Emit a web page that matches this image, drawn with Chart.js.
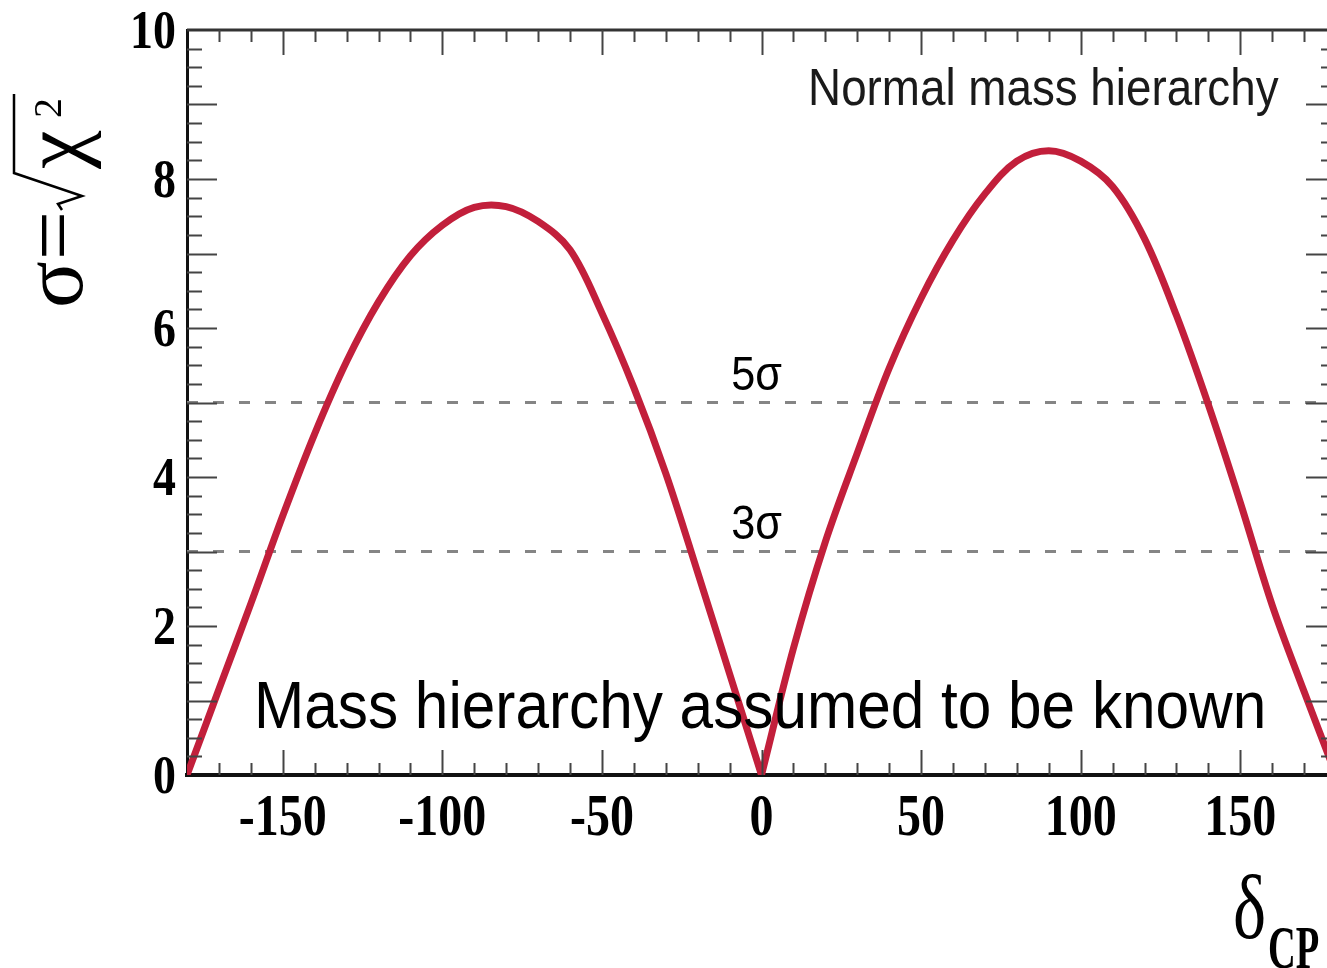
<!DOCTYPE html>
<html>
<head>
<meta charset="utf-8">
<script src="https://cdn.jsdelivr.net/npm/chart.js@4.4.1/dist/chart.umd.min.js"></script>
<style>
    html, body { margin: 0; padding: 0; background: #fff; overflow: hidden; }
    #wrap { width: 1340px; height: 968px; }
</style>
</head>
<body>
<div id="wrap"><canvas id="cpChart" width="1340" height="968"></canvas></div>
<script>
// sigma = sqrt(chi2) versus delta_CP, normal hierarchy, hierarchy known
const deltaLeft = [-180, -170, -160, -150, -140, -130, -120, -110, -100, -90, -80, -70, -60, -50, -40, -30, -20, -10, 0];
const sigmaLeft = [0, 1.15, 2.3, 3.48, 4.58, 5.55, 6.35, 6.97, 7.38, 7.62, 7.63, 7.43, 7.05, 6.2, 5.2, 4.05, 2.72, 1.36, 0];

const deltaRight = [0, 10, 20, 30, 40, 50, 60, 70, 80, 90, 100, 110, 120, 130, 140, 150, 160, 170, 180];
const sigmaRight = [0, 1.7, 3.13, 4.32, 5.46, 6.4, 7.18, 7.8, 8.24, 8.38, 8.24, 7.9, 7.2, 6.17, 4.97, 3.66, 2.28, 1.12, 0];

// significance reference levels
const sigmaLevels = [3, 5];
const levelLabels = ['3σ', '5σ'];

// axis labels
const xTickValues = [-150, -100, -50, 0, 50, 100, 150];
const yTickValues = [0, 2, 4, 6, 8, 10];
const xMinorStep = 10;
const yMinorStep = 0.25;

const curveColor = '#c21f3b';

function toPoints(xs, ys) {
    return xs.map((v, i) => ({ x: v, y: ys[i] }));
}

// text squeezed horizontally, like the narrow fonts of the plot
function drawText(ctx, text, x, y, font, sx, align) {
    ctx.save();
    ctx.font = font;
    const w = ctx.measureText(text).width * sx;
    let left = x;
    if (align === 'center') left = x - w / 2;
    if (align === 'right') left = x - w;
    ctx.translate(left, y);
    ctx.scale(sx, 1);
    ctx.textAlign = 'left';
    ctx.textBaseline = 'alphabetic';
    ctx.fillText(text, 0, 0);
    ctx.restore();
    return w;
}

const framePlugin = {
    id: 'framePlugin',
    afterDraw(chart) {
        const { ctx, chartArea: a, scales: { x, y } } = chart;
        ctx.save();

        // top and right edges of the frame
        ctx.strokeStyle = '#333';
        ctx.lineWidth = 3;
        ctx.beginPath();
        ctx.moveTo(a.left, a.top);
        ctx.lineTo(a.right, a.top);
        ctx.lineTo(a.right, a.bottom);
        ctx.stroke();

        // inward ticks on all four sides
        ctx.strokeStyle = '#444';
        ctx.lineWidth = 2;
        ctx.beginPath();
        for (let v = x.min + xMinorStep; v < x.max; v += xMinorStep) {
            const px = Math.round(x.getPixelForValue(v)) + 0.5;
            const len = (Math.round(v) % 50 === 0) ? 25 : 12;
            ctx.moveTo(px, a.bottom);
            ctx.lineTo(px, a.bottom - len);
            ctx.moveTo(px, a.top);
            ctx.lineTo(px, a.top + len);
        }
        for (let v = y.min + yMinorStep; v < y.max; v += yMinorStep) {
            const py = Math.round(y.getPixelForValue(v)) + 0.5;
            const len = (Math.abs(v - Math.round(v)) < 1e-6) ? 30 : 15;
            ctx.moveTo(a.left, py);
            ctx.lineTo(a.left + len, py);
            ctx.moveTo(a.right, py);
            ctx.lineTo(a.right - len, py);
        }
        ctx.stroke();

        // tick labels
        ctx.fillStyle = '#000';
        xTickValues.forEach(v => {
            drawText(ctx, String(v), x.getPixelForValue(v), a.bottom + 60,
                'bold 60px "Liberation Serif"', 0.8, 'center');
        });
        yTickValues.forEach(v => {
            drawText(ctx, String(v), a.left - 11, y.getPixelForValue(v) + 18,
                'bold 54px "Liberation Serif"', 0.85, 'right');
        });

        // significance labels over the dashed lines
        sigmaLevels.forEach((lvl, i) => {
            drawText(ctx, levelLabels[i], x.getPixelForValue(-9.5), y.getPixelForValue(lvl) - 13,
                '48px "Liberation Sans"', 0.9, 'left');
        });

        // plot captions
        ctx.fillStyle = '#1a1a1a';
        drawText(ctx, 'Normal mass hierarchy', x.getPixelForValue(162), y.getPixelForValue(9),
            '52px "Liberation Sans"', 0.88, 'right');
        ctx.fillStyle = '#000';
        drawText(ctx, 'Mass hierarchy assumed to be known', x.getPixelForValue(-159), y.getPixelForValue(0.63),
            '67px "Liberation Sans"', 0.9, 'left');

        // x axis title: delta_CP
        const dw = drawText(ctx, 'δ', 1233, 938, '90px "Liberation Serif"', 0.78, 'left');
        drawText(ctx, 'CP', 1233 + dw + 2, 968, 'bold 62px "Liberation Serif"', 0.62, 'left');

        // y axis title: sigma = sqrt(chi^2), rotated
        ctx.save();
        ctx.translate(82, 310);
        ctx.rotate(-Math.PI / 2);
        ctx.font = '87px "Liberation Serif"';
        ctx.textBaseline = 'alphabetic';
        ctx.fillText('σ', 2, 0);
        ctx.fillText('=', 50, 0);
        ctx.strokeStyle = '#000';
        ctx.lineWidth = 2.5;
        ctx.beginPath();
        ctx.moveTo(100, -20);
        ctx.lineTo(106, -24);
        ctx.lineTo(114, 0);
        ctx.lineTo(137, -68);
        ctx.lineTo(216, -68);
        ctx.stroke();
        ctx.fillText('χ', 141, 0);
        ctx.font = '40px "Liberation Serif"';
        ctx.fillText('2', 192, -21);
        ctx.restore();

        ctx.restore();
    }
};

const curveStyle = {
    borderColor: curveColor,
    borderWidth: 7,
    pointRadius: 0,
    tension: 0.35,
    fill: false,
    order: 1
};

const levelDatasets = sigmaLevels.map(lvl => ({
    data: [{ x: -180, y: lvl }, { x: 180, y: lvl }],
    borderColor: '#858585',
    borderWidth: 3,
    borderDash: [11, 15],
    pointRadius: 0,
    fill: false,
    order: 2
}));

new Chart(document.getElementById('cpChart').getContext('2d'), {
    type: 'line',
    data: {
        datasets: [
            Object.assign({ data: toPoints(deltaLeft, sigmaLeft) }, curveStyle),
            Object.assign({ data: toPoints(deltaRight, sigmaRight) }, curveStyle),
            ...levelDatasets
        ]
    },
    options: {
        responsive: false,
        animation: false,
        devicePixelRatio: 1,
        layout: { padding: { left: 0, right: 4, top: 30, bottom: 0 } },
        plugins: {
            legend: { display: false },
            tooltip: { enabled: false },
            title: { display: false }
        },
        scales: {
            x: {
                type: 'linear',
                min: -180,
                max: 180,
                grid: { display: false },
                border: { display: true, color: '#111', width: 4 },
                ticks: { display: false },
                afterFit(scale) { scale.height = 193; }
            },
            y: {
                type: 'linear',
                min: 0,
                max: 10,
                grid: { display: false },
                border: { display: true, color: '#111', width: 3 },
                ticks: { display: false },
                afterFit(scale) { scale.width = 187; }
            }
        }
    },
    plugins: [framePlugin]
});
</script>
</body>
</html>
